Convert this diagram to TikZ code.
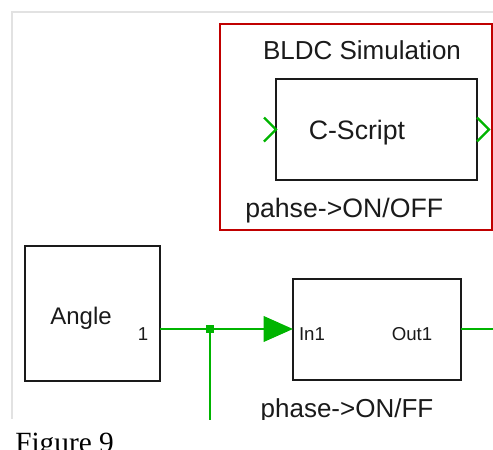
\documentclass[tikz,border=0pt]{standalone}
\usepackage{fontspec}
\usetikzlibrary{arrows.meta,positioning,calc}
\newfontfamily\blockfont{Liberation Sans}
\newfontfamily\capfont{Liberation Serif}
\definecolor{Wire}{HTML}{00B400}
\definecolor{Frame}{HTML}{C00000}
\definecolor{Ink}{HTML}{1A1A1A}
\definecolor{Panel}{HTML}{E2E2E2}
\tikzset{
 blk/.style={draw=Ink,line width=2pt,inner sep=0pt,outer sep=0pt},
 group/.style={draw=Frame,line width=1.3pt,inner sep=0pt,outer sep=0pt},
 txt/.style={font=\blockfont\fontsize{18}{20}\selectfont,text=Ink,inner sep=0pt},
 port/.style={font=\blockfont\fontsize{14}{16}\selectfont,text=Ink,inner sep=0pt},
 wire/.style={draw=Wire,line width=2pt},
 sig/.style={wire,-{Triangle[length=22pt,width=19pt]}},
 chev/.style={draw=Wire,line width=1.8pt},
 jdot/.style={fill=Wire,minimum size=6pt,inner sep=0pt,outer sep=0pt}
}
\begin{document}
\begin{tikzpicture}[x=0.75pt,y=-0.75pt]
\useasboundingbox (0,0) rectangle (493,450);
\begin{scope}
\clip (0,0) rectangle (493,419);
\draw[Panel,line width=0.8pt] (12,419)--(12,12)--(493,12);
% subsystem group
\node[group,minimum width=204pt,minimum height=154.5pt] (grp) at (356,127) {};
\node[txt,font=\blockfont\fontsize{19.5}{21}\selectfont] at (362,50) {BLDC Simulation};
\node[blk,minimum width=150.75pt,minimum height=75.75pt] (cs) at (376.5,129.5) {};
\node[txt,font=\blockfont\fontsize{20}{22}\selectfont] at (357,133) {C-Script};
\node[txt,anchor=base west,font=\blockfont\fontsize{20}{22}\selectfont] at (245,217) {pahse->ON/OFF};
\draw[chev] ($(cs.west)+(-12,-12)$)--(cs.west)--($(cs.west)+(-12,12)$);
\draw[chev] ($(cs.east)+(0,-12)$)--++(12,12)--++(-12,12);
% angle source and phase block
\node[blk,minimum size=101.25pt] (ang) at (92.5,313.5) {};
\node[txt,anchor=base] at (81,324) {Angle};
\node[port,anchor=base] at (143,340) {1};
\node[blk,minimum width=126pt,minimum height=75.75pt] (ph) at (377,329.5) {};
\node[port,anchor=base] at (312,340) {In1};
\node[port,anchor=base] at (412,340) {Out1};
\node[txt,anchor=base,font=\blockfont\fontsize{19.5}{21}\selectfont] at (347,417) {phase->ON/FF};
\node[jdot] (jn) at (210,329) {};
\coordinate (dn) at (210,450);
\coordinate (rt) at (493,329);
\draw[wire] (ang.east |- jn)--(jn);
\draw[sig] (jn)--(ph.west |- jn);
\draw[wire] (jn)--(dn);
\draw[wire] (ph.east |- rt)--(rt);
\end{scope}
\node[anchor=base west,inner sep=0pt,font=\capfont\fontsize{22}{24}\selectfont] (cap) at (15,452) {Figure 9};
\end{tikzpicture}
\end{document}
